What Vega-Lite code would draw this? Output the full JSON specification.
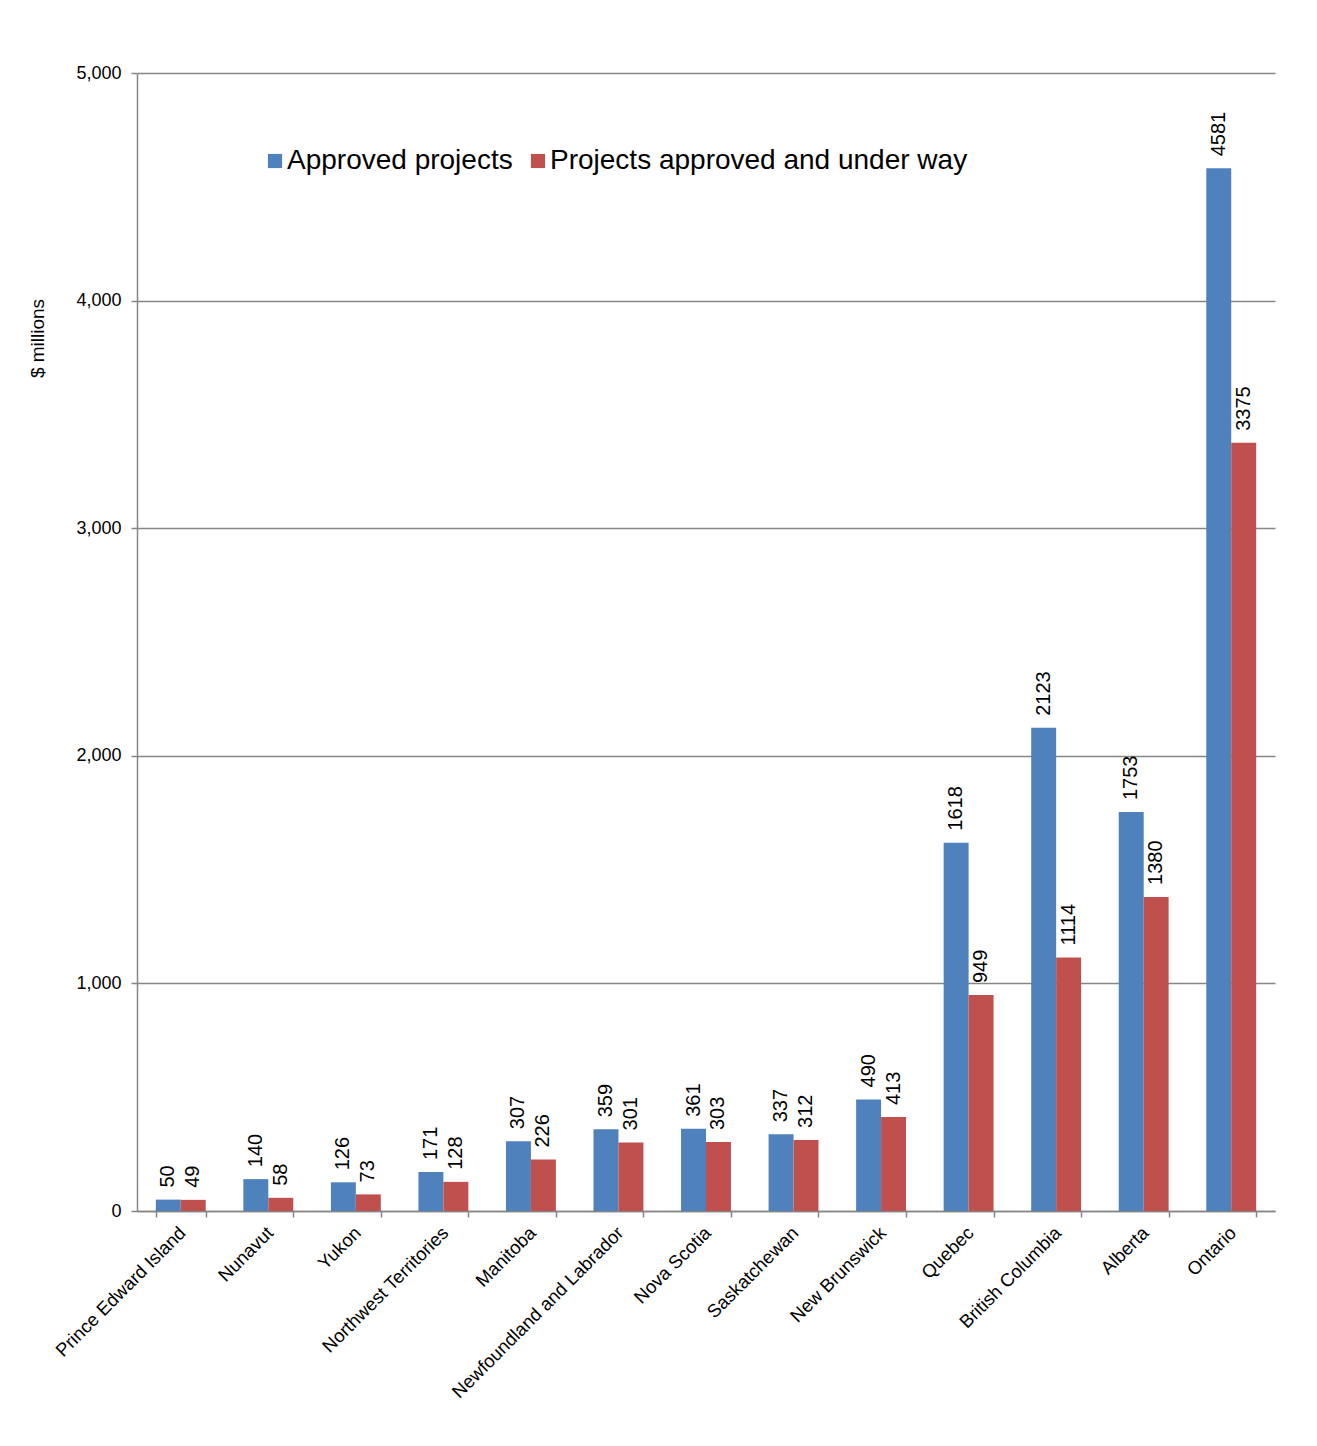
{
  "$schema": "https://vega.github.io/schema/vega-lite/v6.json",
  "width": 1138,
  "height": 1138,
  "autosize": {"type": "none"},
  "padding": {"left": 137, "top": 73, "right": 42, "bottom": 235},
  "background": "white",
  "config": {
    "font": "Liberation Sans",
    "view": {"stroke": null},
    "axisX": {
      "labelAngle": -45,
      "labelAlign": "right",
      "labelBaseline": "top",
      "labelFontSize": 18.5,
      "labelColor": "#000000",
      "labelPadding": 6,
      "labelOffset": -5,
      "labelLimit": 500,
      "tickBand": "extent",
      "tickSize": 6,
      "tickColor": "#868686",
      "tickWidth": 1.5,
      "domainColor": "#868686",
      "domainWidth": 1.5,
      "grid": false
    },
    "axisY": {
      "titleFontSize": 19,
      "titleFontWeight": "normal",
      "titleColor": "#000000",
      "titleAngle": -90,
      "titleX": -100,
      "titleY": 265,
      "titleAlign": "center",
      "titleBaseline": "middle",
      "labelFontSize": 18,
      "labelColor": "#000000",
      "labelPadding": 10,
      "tickSize": 6,
      "tickColor": "#868686",
      "tickWidth": 1.5,
      "domainColor": "#868686",
      "domainWidth": 1.5,
      "grid": true,
      "gridColor": "#868686",
      "gridWidth": 1.5
    }
  },
  "data": {
    "values": [
      {"province": "Prince Edward Island", "series": "Approved projects", "value": 50},
      {"province": "Prince Edward Island", "series": "Projects approved and under way", "value": 49},
      {"province": "Nunavut", "series": "Approved projects", "value": 140},
      {"province": "Nunavut", "series": "Projects approved and under way", "value": 58},
      {"province": "Yukon", "series": "Approved projects", "value": 126},
      {"province": "Yukon", "series": "Projects approved and under way", "value": 73},
      {"province": "Northwest Territories", "series": "Approved projects", "value": 171},
      {"province": "Northwest Territories", "series": "Projects approved and under way", "value": 128},
      {"province": "Manitoba", "series": "Approved projects", "value": 307},
      {"province": "Manitoba", "series": "Projects approved and under way", "value": 226},
      {"province": "Newfoundland and Labrador", "series": "Approved projects", "value": 359},
      {"province": "Newfoundland and Labrador", "series": "Projects approved and under way", "value": 301},
      {"province": "Nova Scotia", "series": "Approved projects", "value": 361},
      {"province": "Nova Scotia", "series": "Projects approved and under way", "value": 303},
      {"province": "Saskatchewan", "series": "Approved projects", "value": 337},
      {"province": "Saskatchewan", "series": "Projects approved and under way", "value": 312},
      {"province": "New Brunswick", "series": "Approved projects", "value": 490},
      {"province": "New Brunswick", "series": "Projects approved and under way", "value": 413},
      {"province": "Quebec", "series": "Approved projects", "value": 1618},
      {"province": "Quebec", "series": "Projects approved and under way", "value": 949},
      {"province": "British Columbia", "series": "Approved projects", "value": 2123},
      {"province": "British Columbia", "series": "Projects approved and under way", "value": 1114},
      {"province": "Alberta", "series": "Approved projects", "value": 1753},
      {"province": "Alberta", "series": "Projects approved and under way", "value": 1380},
      {"province": "Ontario", "series": "Approved projects", "value": 4581},
      {"province": "Ontario", "series": "Projects approved and under way", "value": 3375}
    ]
  },
  "encoding": {
    "x": {
      "field": "province",
      "type": "nominal",
      "sort": null,
      "scale": {"paddingInner": 0.43, "paddingOuter": 0.215},
      "axis": {"title": null}
    },
    "xOffset": {"field": "series", "type": "nominal", "sort": ["Approved projects", "Projects approved and under way"]},
    "y": {
      "field": "value",
      "type": "quantitative",
      "scale": {"domain": [0, 5000], "nice": false},
      "axis": {
        "title": "$ millions",
        "values": [0, 1000, 2000, 3000, 4000, 5000],
        "format": ",d"
      }
    }
  },
  "layer": [
    {
      "mark": {"type": "bar"},
      "encoding": {
        "color": {
          "field": "series",
          "type": "nominal",
          "sort": ["Approved projects", "Projects approved and under way"],
          "scale": {"range": ["#4F81BD", "#C0504D"]},
          "legend": {
            "title": null,
            "orient": "none",
            "direction": "horizontal",
            "legendX": 124,
            "legendY": 74,
            "symbolType": "square",
            "symbolSize": 200,
            "symbolStrokeWidth": 0,
            "labelFontSize": 28,
            "labelColor": "#000000",
            "labelOffset": -2,
            "columnPadding": 11,
            "labelLimit": 600
          }
        }
      }
    },
    {
      "mark": {"type": "text", "angle": 270, "align": "left", "baseline": "middle", "dx": 12, "fontSize": 20, "color": "#000000"},
      "encoding": {
        "text": {"field": "value"}
      }
    }
  ]
}
